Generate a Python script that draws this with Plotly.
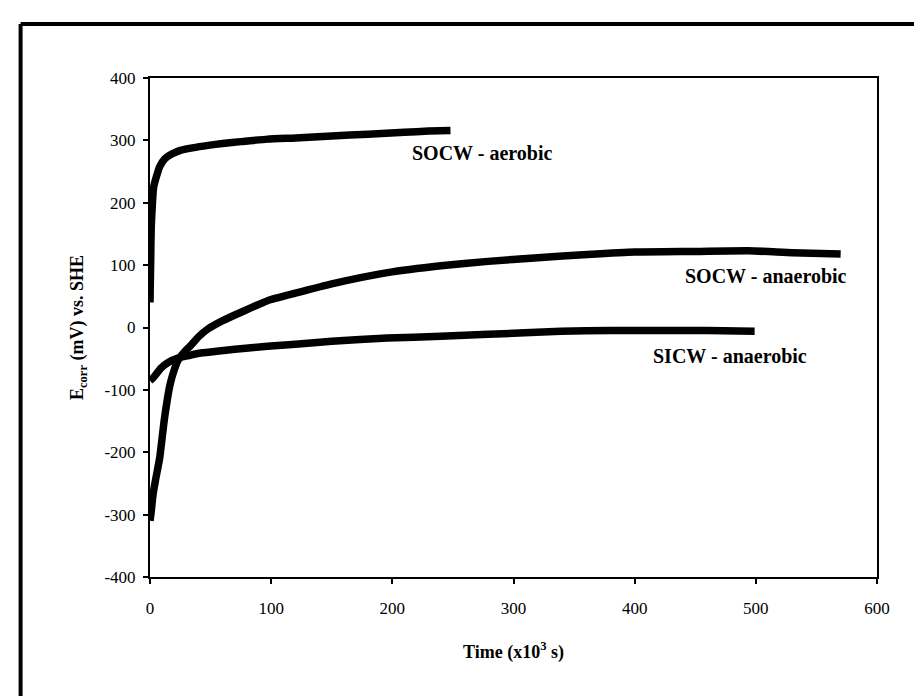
import plotly.graph_objects as go

# ---- data (time in 10^3 s, potential in mV vs SHE) ----
socw_aerobic_t = [0, 0.5, 1, 2, 3, 5, 8, 12, 18, 25, 35, 48, 60, 75, 97, 120, 150, 180, 210, 230, 248]
socw_aerobic_e = [40, 100, 160, 200, 225, 240, 258, 270, 278, 284, 288, 292, 295, 298, 302, 304, 307, 310, 313, 315, 316]

socw_anaerobic_t = [0, 1, 2.5, 5, 8, 12, 16.5, 20, 23, 28, 34, 40, 48, 58, 70, 85, 97, 120, 150, 196,
                    240, 279, 320, 361, 400, 450, 494, 530, 570]
socw_anaerobic_e = [-310, -295, -268, -240, -209, -145, -92, -68, -53, -40, -28, -15, -2, 9, 20, 33, 43, 55, 70, 88,
                    99, 106, 112, 117, 121, 122, 123, 120, 118]

sicw_anaerobic_t = [0, 2, 5, 9, 15, 23, 32, 42, 55, 70, 97, 120, 150, 196, 240, 279, 339, 380, 417, 460, 499]
sicw_anaerobic_e = [-85, -82, -75, -65, -56, -49, -45, -41, -38, -35, -30, -27, -22, -17, -14, -11, -6, -5, -5, -5, -6]

labels = ["SOCW - aerobic", "SOCW - anaerobic", "SICW - anaerobic"]
label_t = [274, 508, 479]
label_e = [280, 83, -45]

x_ticks = [0, 100, 200, 300, 400, 500, 600]
y_ticks = [-400, -300, -200, -100, 0, 100, 200, 300, 400]

FONT = "Liberation Serif, Times New Roman, serif"

fig = go.Figure()
for t, e in [(socw_aerobic_t, socw_aerobic_e),
             (socw_anaerobic_t, socw_anaerobic_e),
             (sicw_anaerobic_t, sicw_anaerobic_e)]:
    fig.add_trace(go.Scatter(x=t, y=e, mode="lines",
                             line=dict(color="black", width=7.5, shape="spline", smoothing=0.5),
                             showlegend=False, hoverinfo="skip"))

for txt, t, e in zip(labels, label_t, label_e):
    fig.add_annotation(x=t, y=e, text=f"<b>{txt}</b>", showarrow=False,
                       font=dict(family=FONT, size=20, color="black"),
                       xanchor="center", yanchor="middle")

# outer frame (left and top edges visible)
fig.add_shape(type="line", xref="paper", yref="paper", x0=-0.178, x1=-0.178, y0=-0.4, y1=1.108,
              line=dict(color="black", width=4))
fig.add_shape(type="line", xref="paper", yref="paper", x0=-0.178, x1=1.2, y0=1.108, y1=1.108,
              line=dict(color="black", width=4))

fig.update_xaxes(range=[0, 600], tickvals=x_ticks, ticktext=[str(v) for v in x_ticks],
                 showgrid=False, zeroline=False, showline=True, linecolor="black", linewidth=2,
                 mirror=True, ticks="outside", ticklen=5, tickwidth=1.5, tickcolor="black",
                 ticklabelstandoff=10,
                 tickfont=dict(family=FONT, size=17, color="black"),
                 title=dict(text="<b>Time (x10<sup>3</sup> s)</b>", standoff=28,
                            font=dict(family=FONT, size=18, color="black")))
fig.update_yaxes(range=[-400, 400], tickvals=y_ticks, ticktext=[str(v) for v in y_ticks],
                 showgrid=False, zeroline=False, showline=True, linecolor="black", linewidth=2,
                 mirror=True, ticks="outside", ticklen=5, tickwidth=1.5, tickcolor="black",
                 ticklabelstandoff=4,
                 tickfont=dict(family=FONT, size=17, color="black"),
                 title=dict(text="<b>E<sub>corr</sub> (mV) vs. SHE</b>", standoff=16,
                            font=dict(family=FONT, size=18, color="black")))

fig.update_layout(width=922, height=696, plot_bgcolor="white", paper_bgcolor="white",
                  margin=dict(l=142, r=53, t=70, b=127), showlegend=False)

fig.write_html("out.html")
